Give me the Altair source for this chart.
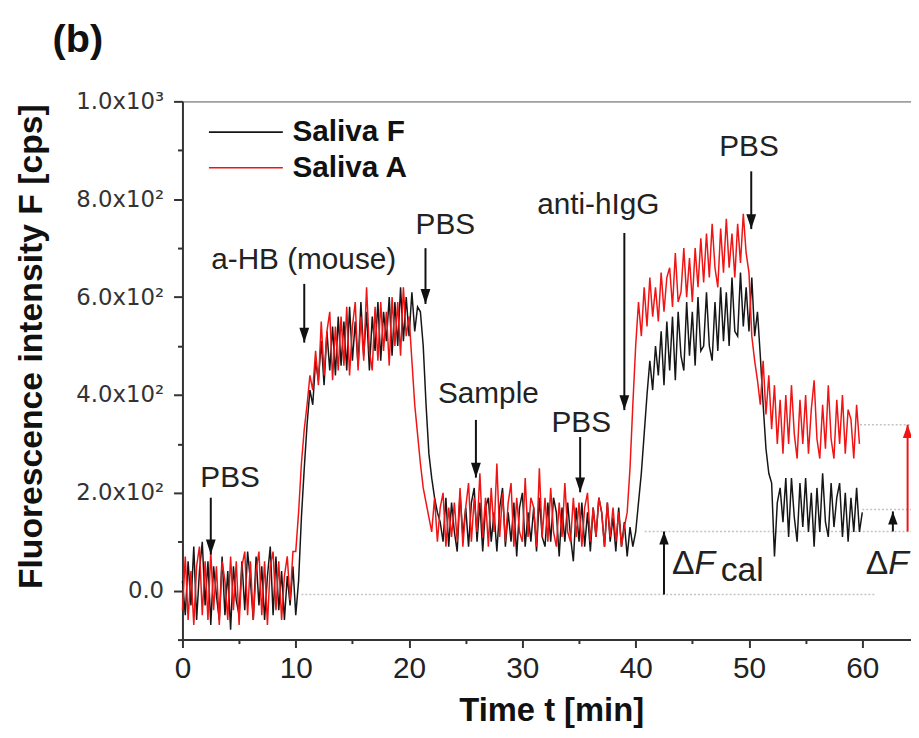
import altair as alt
import pandas as pd

STEP = 0.25  # sampling interval of the traces [min]

# Saliva F (black), t = 0 ... 60 min, 4 samples per minute
saliva_f = [
    20, -50, 60, -30,
    90, -60, 40, 100,
    -30, 60, -70, 50,
    -10, -60, 70, -50,
    40, -80, 50, -20,
    -50, 60, -40, 80,
    20, -60, 70, -30,
    50, -60, 30, 90,
    -50, 70, -40, 40,
    -60, 30, -30, 50,
    -50, 20, 150, 250,
    340, 410, 380, 470,
    430, 510, 420, 530,
    450, 540, 440, 560,
    460, 550, 450, 580,
    470, 550, 460, 590,
    480, 570, 450, 560,
    490, 590, 470, 570,
    510, 600, 480, 590,
    500, 620, 510, 600,
    520, 610, 530, 580,
    570, 500, 380, 280,
    230, 190, 160, 140,
    100, 190, 90, 180,
    120, 80, 200, 110,
    170, 90, 180, 210,
    100, 180, 80, 170,
    190, 100, 160, 80,
    170, 210, 90, 160,
    100, 180, 70, 170,
    200, 90, 160, 100,
    170, 80, 190, 110,
    90, 180, 100, 190,
    160, 70, 170, 100,
    180, 110, 60, 170,
    100, 180, 90, 160,
    80, 170, 110, 190,
    160, 90, 180, 100,
    150, 80, 170, 90,
    140, 70, 130, 90,
    120, 180, 240, 320,
    400, 470, 410, 500,
    440, 530, 420, 550,
    450, 560, 430, 570,
    480, 450, 590, 480,
    570, 460, 600, 490,
    500, 610, 500, 470,
    590, 490, 620, 510,
    610, 500, 640, 530,
    520, 650, 540, 620,
    530, 640, 520, 570,
    480, 380, 290, 240,
    220, 70, 180, 210,
    140, 230, 110, 230,
    150, 100, 220, 130,
    230, 120, 200, 90,
    210, 120, 240, 140,
    110, 220, 130, 190,
    220, 110, 200, 100,
    190, 120, 210, 120,
    160,
]

# Saliva A (red), t = 0 ... 59.75 min
saliva_a = [
    -40, 70, -60, 40,
    -70, 50, 90, -50,
    60, -60, 80, -40,
    50, -70, 60, 20,
    -60, 70, -40, 60,
    -70, 50, 80, -50,
    60, -60, 40, 80,
    -50, 60, -70, 50,
    80, -40, 60, -60,
    30, 70, -20, 80,
    80, 160, 260, 330,
    380, 440, 410, 490,
    420, 550, 440, 530,
    570, 430, 540, 450,
    560, 460, 580, 440,
    540, 590, 450, 560,
    470, 620, 490, 450,
    580, 470, 590, 490,
    570, 460, 600, 500,
    590, 480, 620, 520,
    560, 470, 380, 320,
    260, 210, 180, 150,
    120, 190, 100, 170,
    200, 90, 170, 110,
    180, 100, 210, 90,
    170, 220, 100, 190,
    120, 240, 110, 190,
    90, 210, 120, 260,
    110, 200, 100, 180,
    220, 90, 190, 120,
    100, 230, 110, 190,
    170, 90, 250, 110,
    190, 100, 210, 120,
    90, 180, 110, 220,
    120, 100, 190, 110,
    180, 90, 170, 200,
    100, 170, 110, 190,
    160, 90, 180, 110,
    170, 100, 160, 90,
    130, 160, 250, 380,
    500, 590, 520, 620,
    540, 640, 560, 620,
    550, 650, 570, 640,
    660, 580, 690, 590,
    610, 700, 600, 680,
    590, 700, 620, 720,
    630, 730, 640, 750,
    660, 620, 740, 650,
    760, 660, 730, 640,
    750, 670, 770, 690,
    650, 520, 470, 430,
    380, 470, 360, 440,
    330, 420, 300, 390,
    280, 400, 300, 420,
    320, 270, 390, 300,
    400, 280, 370, 430,
    310, 270, 380, 290,
    420, 310, 270, 390,
    300, 400, 280, 370,
    350, 270, 380, 300,
]

series_names = ["Saliva F", "Saliva A"]
series_colors = ["#161616", "#f01414"]

# dotted reference levels
ref_y = [-8, 121, 166, 339]
ref_x0 = [10.5, 40.8, 60.0, 59.8]
ref_x1 = [61.2, 64.3, 64.3, 64.3]

# injection annotations (down arrows)
ann_labels = ["PBS", "a-HB (mouse)", "PBS", "Sample", "PBS", "anti-hIgG", "PBS"]
ann_text_x = [4.2, 10.7, 23.2, 27.0, 35.2, 36.7, 50.0]
ann_text_y = [211, 657, 729, 383, 325, 769, 888]
arrow_x = [2.5, 10.75, 21.45, 25.9, 35.1, 39.0, 50.2]
arrow_from = [190, 627, 700, 349, 314, 731, 857]
arrow_to = [74, 507, 586, 231, 201, 369, 739]

# signal-change arrows (up)
up_x = [42.5, 62.7]
up_from = [-8, 121]
up_to = [121, 162]
red_up_x = [64.0]
red_up_from = [121]
red_up_to = [339]

# delta labels
delta_text = ["Δ", "cal", "Δ"]
delta_x = [43.2, 47.5, 60.3]
delta_y = [34, 20, 34]
delta_f_x = [45.2, 62.3]
delta_f_y = [34, 34]

# ---------------------------------------------------------------
df_f = pd.DataFrame({"t": [i * STEP for i in range(len(saliva_f))],
                     "F": saliva_f, "series": series_names[0]})
df_a = pd.DataFrame({"t": [i * STEP for i in range(len(saliva_a))],
                     "F": saliva_a, "series": series_names[1]})
df_ref = pd.DataFrame({"x0": ref_x0, "x1": ref_x1, "y": ref_y})
df_ann = pd.DataFrame({"label": ann_labels, "x": ann_text_x, "y": ann_text_y})
df_arr = pd.DataFrame({"x": arrow_x, "y0": arrow_from, "y1": arrow_to})
df_up = pd.DataFrame({"x": up_x, "y0": up_from, "y1": up_to})
df_rup = pd.DataFrame({"x": red_up_x, "y0": red_up_from, "y1": red_up_to})
df_delta = pd.DataFrame({"label": delta_text, "x": delta_x, "y": delta_y})
df_deltaf = pd.DataFrame({"label": ["F"] * len(delta_f_x), "x": delta_f_x, "y": delta_f_y})

FONT = "Liberation Sans"
xscale = alt.Scale(domain=[0, 64.3], nice=False, zero=False)
yscale = alt.Scale(domain=[-100, 1000], nice=False, zero=False)

color = alt.Color(
    "series:N",
    scale=alt.Scale(domain=series_names, range=series_colors),
    legend=alt.Legend(
        orient="none", legendX=45, legendY=12, title=None, padding=0,
        symbolType="M-2.1,0L2.1,0", symbolSize=1260, symbolStrokeWidth=1.6,
        symbolFillColor="transparent",
        labelFont=FONT, labelFontWeight="bold", labelFontSize=30,
        labelColor="#111", labelOffset=28, rowPadding=2,
    ),
)

main_x_axis = alt.Axis(
    orient="bottom", values=list(range(0, 61, 10)), format="d",
    labelFont=FONT, labelFontSize=30, labelColor="#222", labelPadding=6,
    labelFlush=False, labelOverlap=False,
    tickSize=8, tickWidth=2, tickColor="#333",
    domainColor="#333", domainWidth=2, grid=False,
    title="Time t [min]", titleFont=FONT, titleFontWeight="bold",
    titleFontSize=33, titleColor="#111", titleX=372, titleY=82,
    titleAlign="center", titleBaseline="alphabetic",
)
main_y_axis = alt.Axis(
    orient="left", values=[0, 200, 400, 600, 800, 1000],
    labelExpr="datum.value == 0 ? '0.0' : (datum.value >= 1000 ? "
              "format(datum.value / 1000, '.1f') + 'x10³' : "
              "format(datum.value / 100, '.1f') + 'x10²')",
    labelFont="DejaVu Sans", labelFontSize=23, labelColor="#333",
    labelPadding=10, labelFlush=False, labelOverlap=False,
    tickSize=9, tickWidth=2, tickColor="#333",
    domainColor="#333", domainWidth=2, grid=False,
    title="Fluorescence intensity F [cps]", titleFont=FONT,
    titleFontWeight="bold", titleFontSize=34, titleColor="#111",
    titleAngle=270, titleX=-142, titleY=247, titleAlign="center",
    titleBaseline="alphabetic",
)
minor_x_axis = alt.Axis(
    orient="bottom", values=[5, 15, 25, 35, 45, 55], labels=False,
    tickSize=4, tickWidth=2, tickColor="#333", domain=False, grid=False,
    title=None,
)
minor_y_axis = alt.Axis(
    orient="left", values=[-100, 100, 300, 500, 700, 900], labels=False,
    tickSize=5, tickWidth=2, tickColor="#333", domain=False, grid=False,
    title=None,
)
top_axis = alt.Axis(
    orient="top", ticks=False, labels=False, domainColor="#a0a0a0",
    domainWidth=2, grid=False, title=None,
)

refs = alt.Chart(df_ref).mark_rule(
    color="#c4c4c4", strokeWidth=1.5, strokeDash=[2, 2]
).encode(
    x=alt.X("x0:Q", scale=xscale, axis=minor_x_axis),
    x2="x1:Q",
    y=alt.Y("y:Q", scale=yscale, axis=minor_y_axis),
)

line_f = alt.Chart(df_f).mark_line(strokeWidth=1.5).encode(
    x=alt.X("t:Q", scale=xscale, axis=main_x_axis),
    y=alt.Y("F:Q", scale=yscale, axis=main_y_axis),
    color=color,
)
line_a = alt.Chart(df_a).mark_line(strokeWidth=1.5).encode(
    x=alt.X("t:Q", scale=xscale, axis=None),
    y=alt.Y("F:Q", scale=yscale, axis=None),
    color=color,
)

shafts = alt.Chart(df_arr).mark_rule(color="#111", strokeWidth=2).encode(
    x=alt.X("x:Q", scale=xscale, axis=None),
    y=alt.Y("y0:Q", scale=yscale, axis=None),
    y2="y1:Q",
)
heads = alt.Chart(df_arr).mark_point(
    shape="M0,0L-0.33,-1L0.33,-1Z", size=900, filled=True, opacity=1,
    color="#111", strokeWidth=0,
).encode(
    x=alt.X("x:Q", scale=xscale, axis=None),
    y=alt.Y("y1:Q", scale=yscale, axis=None),
)
up_shafts = alt.Chart(df_up).mark_rule(color="#111", strokeWidth=2).encode(
    x=alt.X("x:Q", scale=xscale, axis=None),
    y=alt.Y("y0:Q", scale=yscale, axis=None),
    y2="y1:Q",
)
up_heads = alt.Chart(df_up).mark_point(
    shape="M0,0L-0.36,1L0.36,1Z", size=700, filled=True, opacity=1,
    color="#111", strokeWidth=0,
).encode(
    x=alt.X("x:Q", scale=xscale, axis=None),
    y=alt.Y("y1:Q", scale=yscale, axis=None),
)
red_shaft = alt.Chart(df_rup).mark_rule(color="#f01414", strokeWidth=2).encode(
    x=alt.X("x:Q", scale=xscale, axis=None),
    y=alt.Y("y0:Q", scale=yscale, axis=None),
    y2="y1:Q",
)
red_head = alt.Chart(df_rup).mark_point(
    shape="M0,0L-0.36,1L0.36,1Z", size=700, filled=True, opacity=1,
    color="#f01414", strokeWidth=0,
).encode(
    x=alt.X("x:Q", scale=xscale, axis=None),
    y=alt.Y("y1:Q", scale=yscale, axis=None),
)

ann = alt.Chart(df_ann).mark_text(
    font=FONT, fontSize=30, color="#222", align="center", baseline="alphabetic"
).encode(
    x=alt.X("x:Q", scale=xscale, axis=None),
    y=alt.Y("y:Q", scale=yscale, axis=None),
    text="label:N",
)
delta = alt.Chart(df_delta).mark_text(
    font=FONT, fontSize=34, color="#222", align="left", baseline="alphabetic"
).encode(
    x=alt.X("x:Q", scale=xscale, axis=top_axis),
    y=alt.Y("y:Q", scale=yscale, axis=None),
    text="label:N",
)
delta_f = alt.Chart(df_deltaf).mark_text(
    font=FONT, fontSize=34, fontStyle="italic", color="#222", align="left",
    baseline="alphabetic",
).encode(
    x=alt.X("x:Q", scale=xscale, axis=None),
    y=alt.Y("y:Q", scale=yscale, axis=None),
    text="label:N",
)

chart = alt.layer(
    refs, line_f, line_a, shafts, heads, up_shafts, up_heads,
    red_shaft, red_head, ann, delta, delta_f,
).resolve_axis(
    x="independent", y="independent"
).properties(
    width=735,
    height=543,
    autosize=alt.AutoSizeParams(type="none"),
    padding={"left": 176, "top": 91, "right": 0, "bottom": 88},
    title=alt.TitleParams(
        "(b)", anchor="start", frame="group", dx=-131, dy=33, offset=32,
        baseline="alphabetic", font=FONT, fontSize=40, fontWeight="bold",
        color="#111",
    ),
).configure_view(stroke=None).configure(background="white")

chart.save("out.html", embed_options={"renderer": "svg", "actions": False})
